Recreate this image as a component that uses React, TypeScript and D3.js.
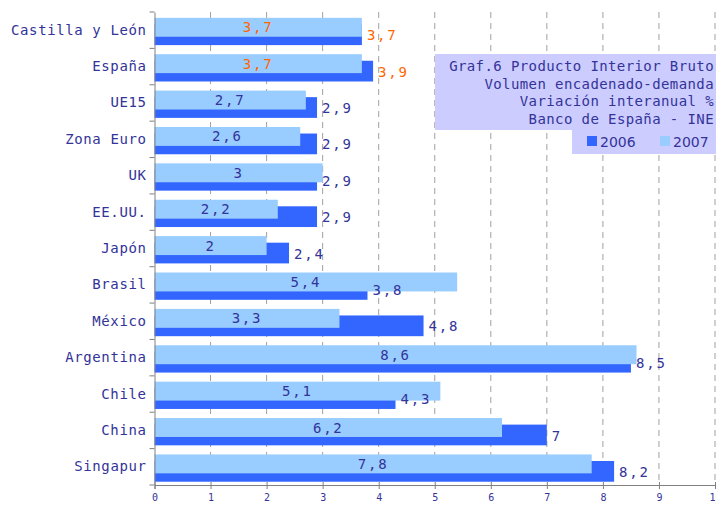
import { useEffect, useRef } from "react";
import * as d3 from "d3";

const categories = ["Castilla y León", "España", "UE15", "Zona Euro", "UK", "EE.UU.", "Japón", "Brasil", "México", "Argentina", "Chile", "China", "Singapur"];
const values2006 = [3.7, 3.9, 2.9, 2.9, 2.9, 2.9, 2.4, 3.8, 4.8, 8.5, 4.3, 7, 8.2];
const values2007 = [3.7, 3.7, 2.7, 2.6, 3, 2.2, 2, 5.4, 3.3, 8.6, 5.1, 6.2, 7.8];
const xTicks = [0, 1, 2, 3, 4, 5, 6, 7, 8, 9, 10];
const titleLines = ["Graf.6 Producto Interior Bruto", "Volumen encadenado-demanda", "Variación interanual %", "Banco de España - INE"];
const highlighted = ["Castilla y León", "España"];

const FONT = "'DejaVu Sans Mono', monospace";
const TEXT = "#333399";
const ORANGE = "#FF6600";
const DARK = "#3366FF";
const LIGHT = "#99CCFF";

const fmt = (v: number) => String(v).replace(".", ",");

const App = () => {
  const ref = useRef<SVGSVGElement>(null);

  useEffect(() => {
    const w = 716;
    const h = 505;
    const svg = d3.select(ref.current).attr("width", w).attr("height", h);
    svg.selectAll("*").remove();

    const x = d3.scaleLinear().domain([0, 10]).range([154.5, 715]);
    const y = d3.scaleBand().domain(categories).range([12, 485]);
    const bw = y.bandwidth();

    // dashed grid
    svg
      .append("g")
      .selectAll("line")
      .data(xTicks.slice(1))
      .join("line")
      .attr("x1", (d) => x(d))
      .attr("x2", (d) => x(d))
      .attr("y1", 12)
      .attr("y2", 485)
      .attr("stroke", "#a0a0a0")
      .attr("stroke-dasharray", "6,5");

    const rows = categories.map((c, i) => ({ c, a: values2006[i], b: values2007[i] }));

    // 2006 behind
    svg
      .append("g")
      .selectAll("rect")
      .data(rows)
      .join("rect")
      .attr("x", x(0))
      .attr("y", (d) => y(d.c)! + bw * 0.34)
      .attr("width", (d) => x(d.a) - x(0))
      .attr("height", bw * 0.57)
      .attr("fill", DARK);

    // 2007 on top
    svg
      .append("g")
      .selectAll("rect")
      .data(rows)
      .join("rect")
      .attr("x", x(0))
      .attr("y", (d) => y(d.c)! + bw * 0.16)
      .attr("width", (d) => x(d.b) - x(0))
      .attr("height", bw * 0.52)
      .attr("fill", LIGHT);

    const labels = svg.append("g");
    labels
      .selectAll("text.v07")
      .data(rows)
      .join("text")
      .attr("class", "v07")
      .attr("x", (d) => x(d.b / 2))
      .attr("y", (d) => y(d.c)! + bw * 0.42)
      .attr("text-anchor", "middle")
      .attr("dominant-baseline", "central")
      .attr("fill", (d) => (highlighted.includes(d.c) ? ORANGE : TEXT))
      .text((d) => fmt(d.b));

    labels
      .selectAll("text.v06")
      .data(rows)
      .join("text")
      .attr("class", "v06")
      .attr("x", (d) => x(d.a) + 5)
      .attr("y", (d) => y(d.c)! + bw * 0.64)
      .attr("dominant-baseline", "central")
      .attr("fill", (d) => (highlighted.includes(d.c) ? ORANGE : TEXT))
      .text((d) => fmt(d.a));

    labels.selectAll("text").style("font-family", FONT).style("font-size", "14px").style("letter-spacing", "1.8px");

    // axes
    const xAxis = d3.axisBottom(x).tickValues(xTicks).tickSize(4).tickFormat((d) => String(d));
    const gx = svg.append("g").attr("transform", "translate(0,485)").call(xAxis);
    gx.select(".domain").attr("stroke", "#808080");
    gx.selectAll(".tick line").attr("stroke", "#808080").attr("y1", -3);
    gx.selectAll("text").attr("fill", TEXT).attr("dy", "0.9em").style("font-family", FONT).style("font-size", "10px");

    const yAxis = d3.axisLeft(y).tickSize(0).tickPadding(8);
    const gy = svg.append("g").attr("transform", `translate(${x(0)},0)`).call(yAxis);
    gy.select(".domain").attr("stroke", "#808080");
    gy.selectAll("text").attr("fill", TEXT).style("font-family", FONT).style("font-size", "14px").style("letter-spacing", "0.6px");
    gy.append("g")
      .selectAll("line")
      .data(d3.range(categories.length + 1))
      .join("line")
      .attr("x1", -5)
      .attr("x2", 0)
      .attr("y1", (i) => 12 + i * bw)
      .attr("y2", (i) => 12 + i * bw)
      .attr("stroke", "#808080");

    // title box
    svg.append("rect").attr("x", 435).attr("y", 54).attr("width", 281).attr("height", 76).attr("fill", "#CCCCFF");
    svg.append("rect").attr("x", 572).attr("y", 130).attr("width", 144).attr("height", 24).attr("fill", "#CCCCFF");
    svg
      .append("g")
      .selectAll("text")
      .data(titleLines)
      .join("text")
      .attr("x", 714)
      .attr("y", (_, i) => 66 + i * 17.6)
      .attr("text-anchor", "end")
      .attr("dominant-baseline", "central")
      .attr("fill", TEXT)
      .style("font-family", FONT)
      .style("font-size", "14px")
      .style("letter-spacing", "0.4px")
      .text((d) => d);

    const legend = [
      { label: "2006", color: DARK, x: 587 },
      { label: "2007", color: LIGHT, x: 660 },
    ];
    const lg = svg.append("g").selectAll("g").data(legend).join("g");
    lg.append("rect").attr("x", (d) => d.x).attr("y", 136).attr("width", 10).attr("height", 10).attr("fill", (d) => d.color);
    lg.append("text")
      .attr("x", (d) => d.x + 13)
      .attr("y", 142)
      .attr("dominant-baseline", "central")
      .attr("fill", TEXT)
      .style("font-family", "'DejaVu Sans', sans-serif")
      .style("font-size", "14px")
      .text((d) => d.label);
  }, []);

  return <svg ref={ref} style={{ position: "absolute", left: 0, top: 0, background: "#fff" }}></svg>;
};

export default App;
